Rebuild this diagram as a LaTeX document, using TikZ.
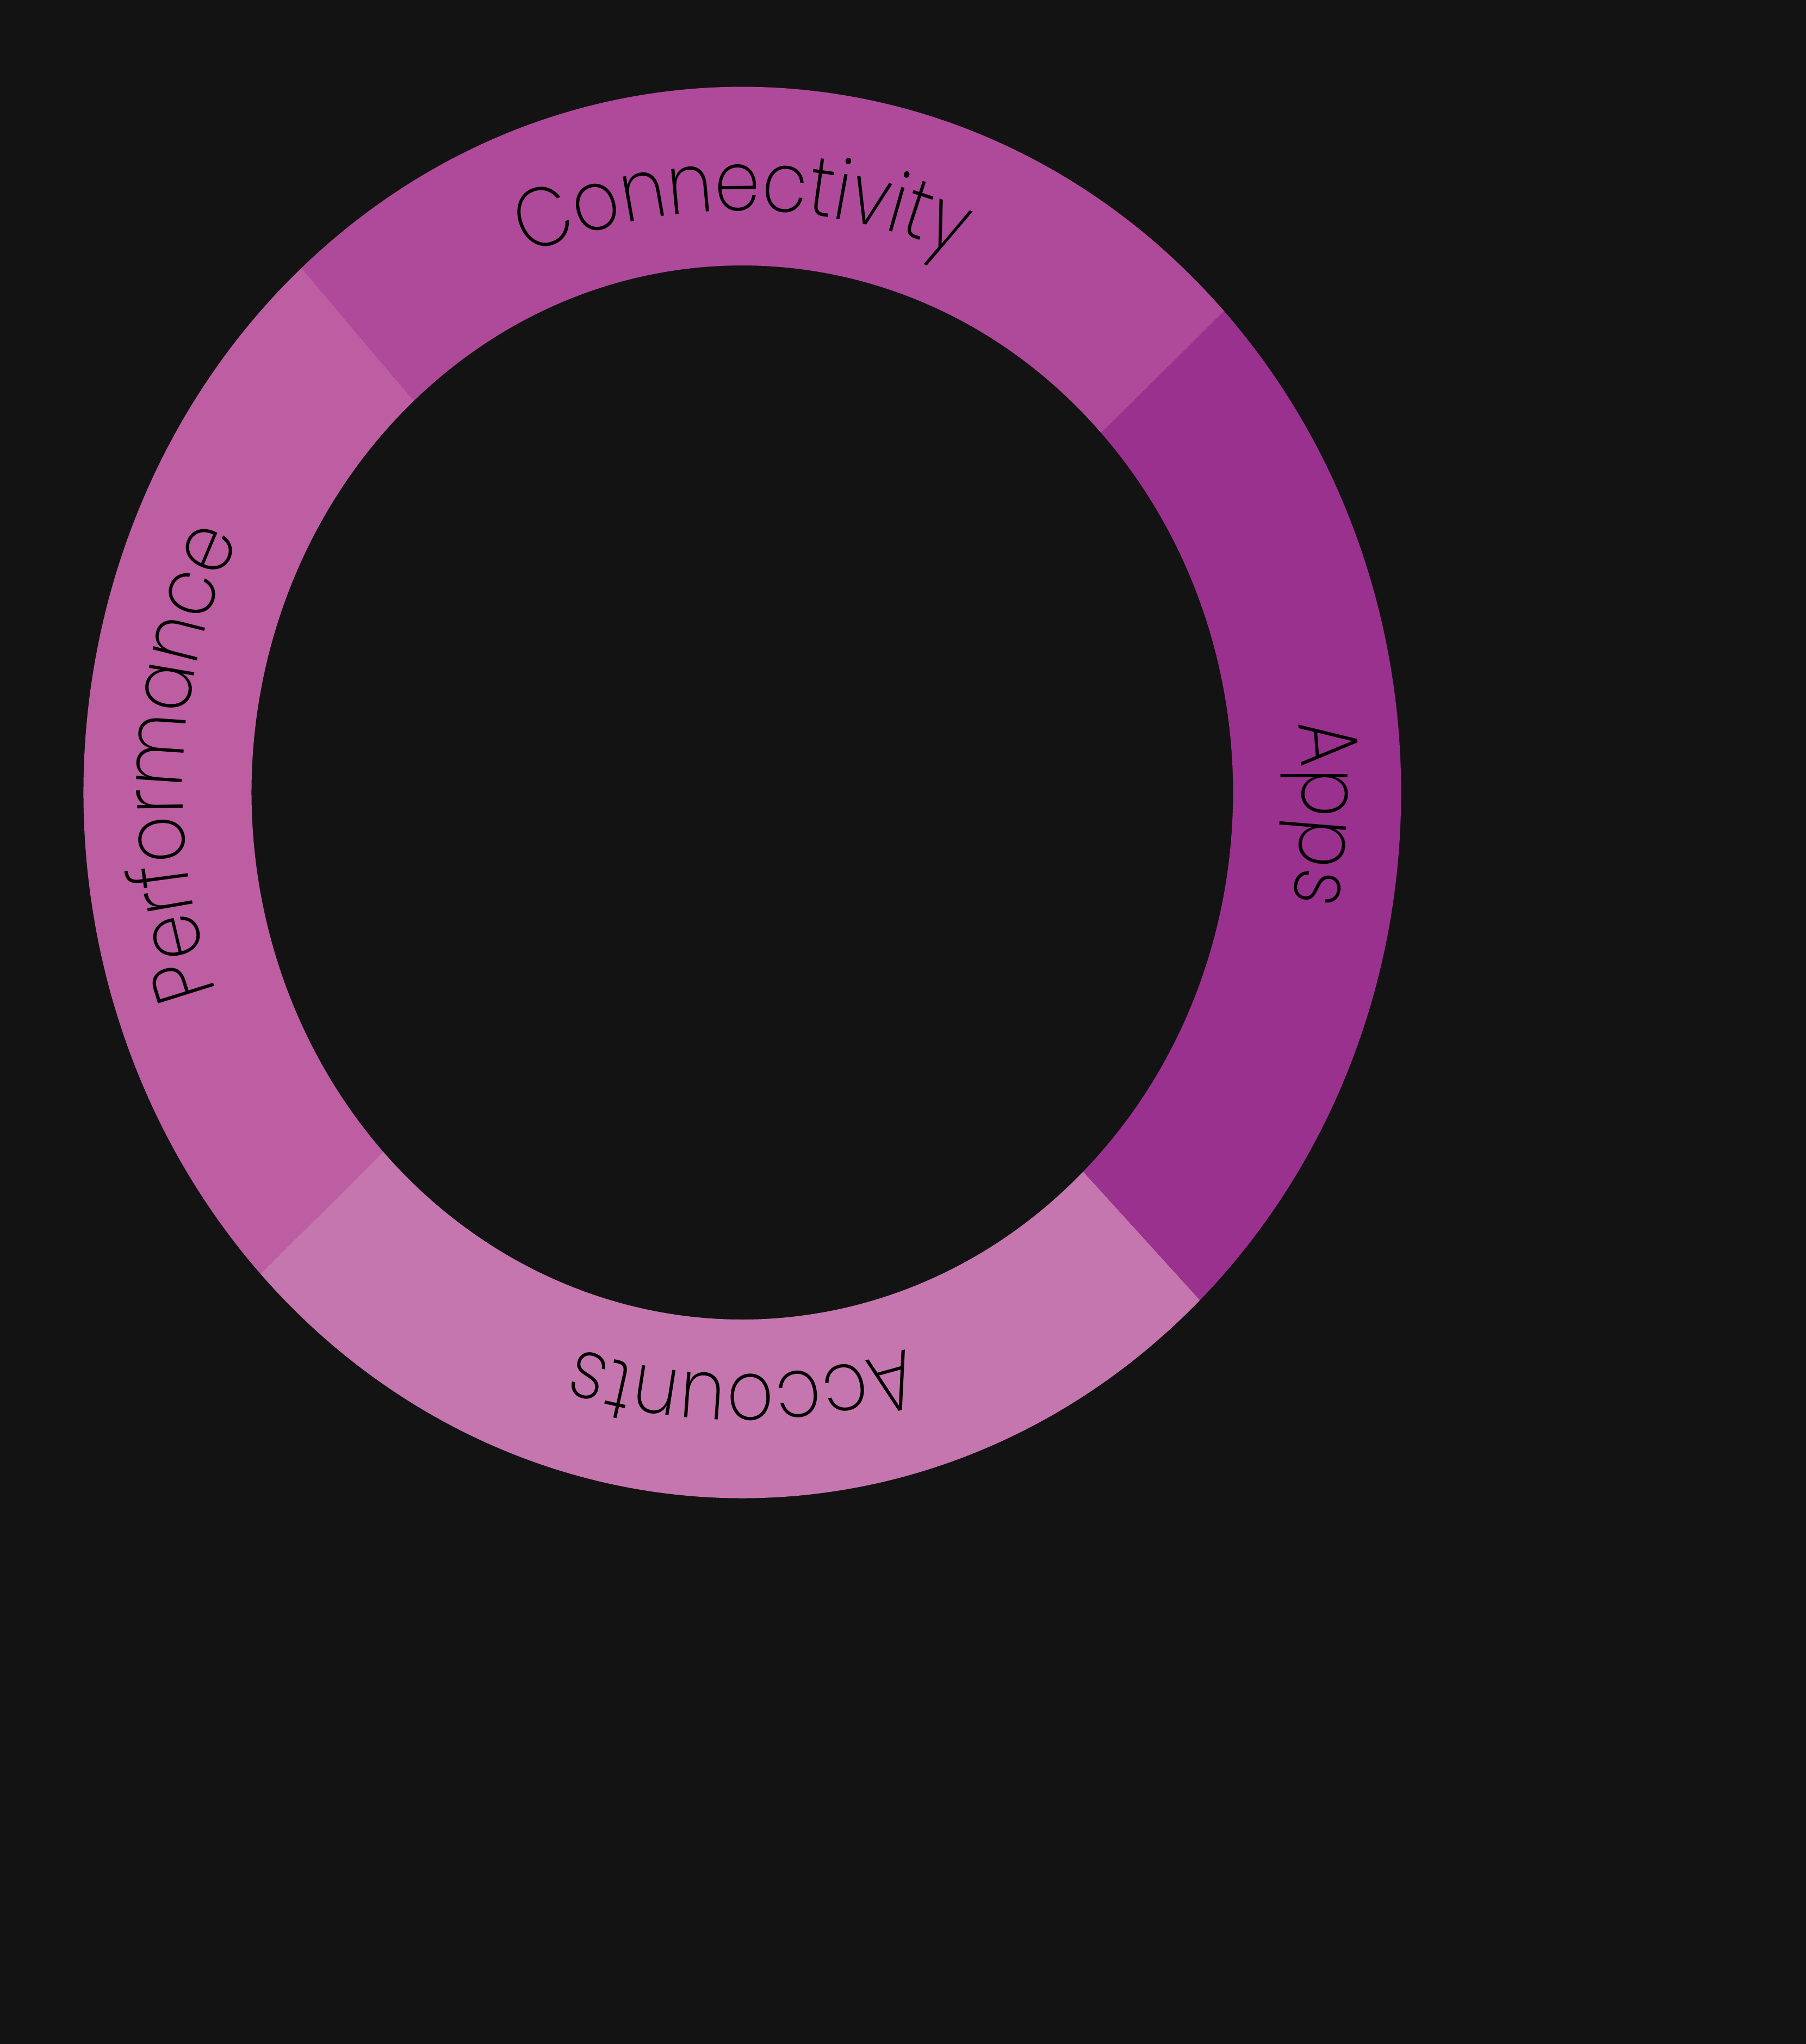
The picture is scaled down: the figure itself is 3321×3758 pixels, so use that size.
\documentclass[tikz,border=0pt]{standalone}
\usepackage{fontspec}
\usetikzlibrary{decorations.text}

\IfFontExistsTF{Poppins ExtraLight}
  {\newfontfamily\ringfont{Poppins ExtraLight}[FakeStretch=0.87]}
  {\newfontfamily\ringfont{Poppins}[FakeStretch=0.87]}
\newcommand{\labelfont}{\ringfont\fontsize{15.4}{18}\selectfont}

\definecolor{bgdark}{HTML}{131313}
\definecolor{segconn}{HTML}{AF4A9A}
\definecolor{segapps}{HTML}{9B318F}
\definecolor{segacc}{HTML}{C676AF}
\definecolor{segperf}{HTML}{BD5DA2}

\tikzset{
  ringlabel/.style={decorate, decoration={text along path, text align=center}},
}

\begin{document}
\begin{tikzpicture}[x=0.1pt, y=0.1pt]

	% background
	\fill[bgdark] (-1365, -2301) rectangle (1956, 1457);

	% ring segments: from / to / colour
	\foreach \a/\b/\c in {43/132/segconn, 132/223/segperf, 223/314/segacc, -46/43/segapps}
	{
		\fill[\c] (\a:1211.5 and 1297.5) arc[start angle=\a, end angle=\b, x radius=1211.5, y radius=1297.5]
			-- (\b:902.5 and 969) arc[start angle=\b, end angle=\a, x radius=902.5, y radius=969] -- cycle;
	}

	% labels, clockwise
	\path[ringlabel, decoration={text={|\labelfont|Connectivity}}]
		(135:1029 and 1070) arc[start angle=135, end angle=45, x radius=1029, y radius=1070];
	\path[ringlabel, decoration={text={|\labelfont|Apps}}]
		(43:1029 and 1070) arc[start angle=43, end angle=-47, x radius=1029, y radius=1070];
	\path[ringlabel, decoration={text={|\labelfont|Accounts}}]
		(315:1029 and 1070) arc[start angle=315, end angle=225, x radius=1029, y radius=1070];
	\path[ringlabel, decoration={text={|\labelfont|Performance}}]
		(222:1029 and 1070) arc[start angle=222, end angle=132, x radius=1029, y radius=1070];

\end{tikzpicture}
\end{document}
